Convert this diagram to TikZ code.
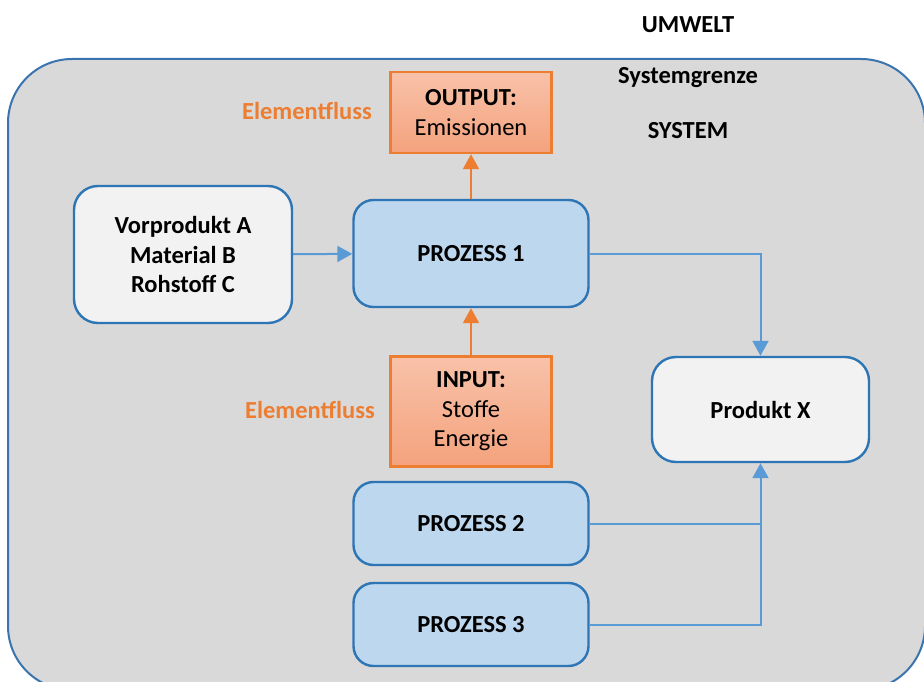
\documentclass[tikz,border=0pt]{standalone}
\usepackage{fontspec}
\setmainfont{Carlito}
\usetikzlibrary{arrows.meta}

\definecolor{sysgray}{HTML}{D9D9D9}
\definecolor{sysline}{HTML}{3A74AE}
\definecolor{boxline}{HTML}{2E75B6}
\definecolor{procfill}{HTML}{BDD7EE}
\definecolor{lightfill}{HTML}{F2F2F2}
\definecolor{flowblue}{HTML}{5B9BD5}
\definecolor{orangeline}{HTML}{ED7D31}
\definecolor{orangetop}{HTML}{F8C2A9}
\definecolor{orangebot}{HTML}{F4A27D}

\newcommand{\bodyfont}{\fontsize{24.5}{29.5}\selectfont}

\tikzset{
  txt/.style={font=\bodyfont, align=center, inner sep=0pt},
  procbox/.style={txt, draw=boxline, line width=2.4pt, fill=procfill,
    rounded corners=20pt, minimum width=235pt, font=\bodyfont\bfseries},
  itembox/.style={txt, draw=boxline, line width=2.4pt, fill=lightfill,
    rounded corners=24pt, font=\bodyfont\bfseries},
  flowbox/.style={txt, draw=orangeline, line width=2.4pt,
    top color=orangetop, bottom color=orangebot, minimum width=161pt},
  bluearrow/.style={draw=flowblue, line width=2pt, -{Triangle[length=15pt,width=16pt]}},
  blueline/.style={draw=flowblue, line width=2pt},
  orangearrow/.style={draw=orangeline, line width=2pt, -{Triangle[length=15pt,width=16pt]}},
  label/.style={txt, font=\bodyfont\bfseries},
  flowlabel/.style={label, text=orangeline}
}

\begin{document}
\begin{tikzpicture}[x=1pt,y=-1pt]
  \useasboundingbox (0,0) rectangle (924,682);
  \fill[white] (0,0) rectangle (924,682);

  % system boundary
  \draw[fill=sysgray, draw=sysline, line width=2pt, rounded corners=64pt]
    (8,59) rectangle (925,690);

  % headings
  \node[label] (umwelt) at (688,25) {UMWELT};
  \node[label] (grenze) at (688,78) {Systemgrenze};
  \node[label] (system) at (688,131) {SYSTEM};

  % element flow labels
  \node[flowlabel] (efout) at (307,111) {Elementfluss};
  \node[flowlabel] (efin) at (310,410) {Elementfluss};

  % boxes
  \node[flowbox, minimum height=81pt] (out) at (471,112.5)
    {\textbf{OUTPUT:}\\Emissionen};
  \node[procbox, minimum height=107pt] (p1) at (471,253.5) {PROZESS 1};
  \node[itembox, minimum width=218pt, minimum height=137pt] (vor) at (183,254.5)
    {Vorprodukt A\\Material B\\Rohstoff C};
  \node[flowbox, minimum height=110pt] (in) at (471,411.5)
    {\textbf{INPUT:}\\Stoffe\\Energie};
  \node[itembox, minimum width=217pt, minimum height=105pt] (prod) at (760.5,409.5)
    {Produkt X};
  \node[procbox, minimum height=83pt] (p2) at (471,523.5) {PROZESS 2};
  \node[procbox, minimum height=83pt] (p3) at (471,624.5) {PROZESS 3};

  % material flows
  \draw[bluearrow] (vor) -- (p1);
  \draw[bluearrow] (p1.east) -| (prod.north);
  \draw[blueline] (p2.east) -- (p2.east -| prod.south);
  \draw[bluearrow] (p3.east) -| (prod.south);

  % element flows
  \draw[orangearrow] (in.north) -- (in.north |- p1.south);
  \draw[orangearrow] (p1.north) -- (p1.north |- out.south);
\end{tikzpicture}
\end{document}
